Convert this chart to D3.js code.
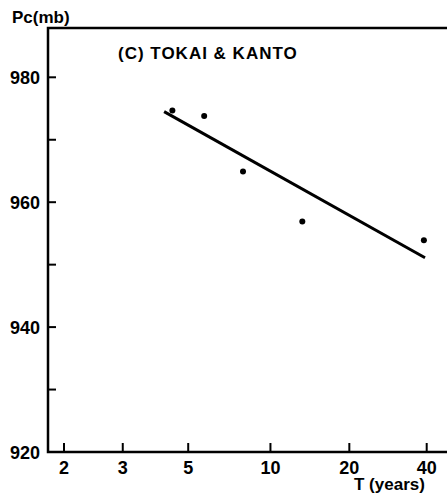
<!DOCTYPE html>
<html>
<head>
<meta charset="utf-8">
<title>Pc vs return period</title>
<script src="https://d3js.org/d3.v7.min.js"></script>
<style>
  body { margin: 0; background: #fff; }
  text { font-family: "Liberation Sans", Arial, sans-serif; font-weight: bold; fill: #000; }
</style>
</head>
<body>
<svg width="447" height="495"></svg>
<script>
// observed points (return period T in years, central pressure Pc in mb)
var obsT  = [4.4, 5.7, 7.9, 13.2, 39];
var obsPc = [974.7, 973.8, 964.9, 956.9, 953.9];
// fitted line end points
var fitT  = [4.12, 39.4];
var fitPc = [974.5, 951.1];

var xTicks = [2, 3, 5, 10, 20, 40];
var yTicks = [920, 930, 940, 950, 960, 970, 980];
var yLabels = [920, 940, 960, 980];

var svg = d3.select('svg');

// Gumbel reduced variate for a return period
function gumbel(T) { return -Math.log(-Math.log(1 - 1 / T)); }

const plotLeft = 48, plotTop = 28, plotRight = 447;

const x = d3.scaleLinear()
    .domain([gumbel(2), gumbel(40)])
    .range([64, 426.7]);

const y = d3.scaleLinear()
    .domain([920, 980])
    .range([452, 77.3]);

const plotBottom = y(920);

// frame
svg.append('path')
    .attr('d', `M${plotRight},${plotTop}H${plotLeft}V${plotBottom}H${plotRight}`)
    .attr('fill', 'none')
    .attr('stroke', '#000')
    .attr('stroke-width', 2.5);

// y ticks (inward)
svg.append('g').selectAll('line')
    .data(yTicks)
    .enter().append('line')
    .attr('x1', plotLeft).attr('x2', plotLeft + 8)
    .attr('y1', d => y(d)).attr('y2', d => y(d))
    .attr('stroke', '#000').attr('stroke-width', 2);

svg.append('g').selectAll('text')
    .data(yLabels)
    .enter().append('text')
    .attr('x', 40)
    .attr('y', d => y(d) + 7)
    .attr('text-anchor', 'end')
    .style('font-size', '18px')
    .text(d => d);

// x ticks (inward)
svg.append('g').selectAll('line')
    .data(xTicks)
    .enter().append('line')
    .attr('x1', d => x(gumbel(d))).attr('x2', d => x(gumbel(d)))
    .attr('y1', plotBottom).attr('y2', plotBottom - 9)
    .attr('stroke', '#000').attr('stroke-width', 2);

svg.append('g').selectAll('text')
    .data(xTicks)
    .enter().append('text')
    .attr('x', d => x(gumbel(d)))
    .attr('y', plotBottom + 22)
    .attr('text-anchor', 'middle')
    .style('font-size', '18px')
    .text(d => d);

// axis titles
svg.append('text')
    .attr('x', 12).attr('y', 23)
    .style('font-size', '17px')
    .text('Pc(mb)');

svg.append('text')
    .attr('x', 354).attr('y', 490)
    .style('font-size', '17px')
    .text('T (years)');

svg.append('text')
    .attr('x', 118).attr('y', 59)
    .style('font-size', '17px')
    .style('letter-spacing', '1px')
    .text('(C)  TOKAI & KANTO');

// fitted line
var line = d3.line()
    .x(d => x(gumbel(d[0])))
    .y(d => y(d[1]));

svg.append('path')
    .datum(d3.zip(fitT, fitPc))
    .attr('d', line)
    .attr('fill', 'none')
    .attr('stroke', '#000')
    .attr('stroke-width', 3);

// observed points
svg.append('g').selectAll('circle')
    .data(d3.zip(obsT, obsPc))
    .enter().append('circle')
    .attr('cx', d => x(gumbel(d[0])))
    .attr('cy', d => y(d[1]))
    .attr('r', 3)
    .attr('fill', '#000');
</script>
</body>
</html>
